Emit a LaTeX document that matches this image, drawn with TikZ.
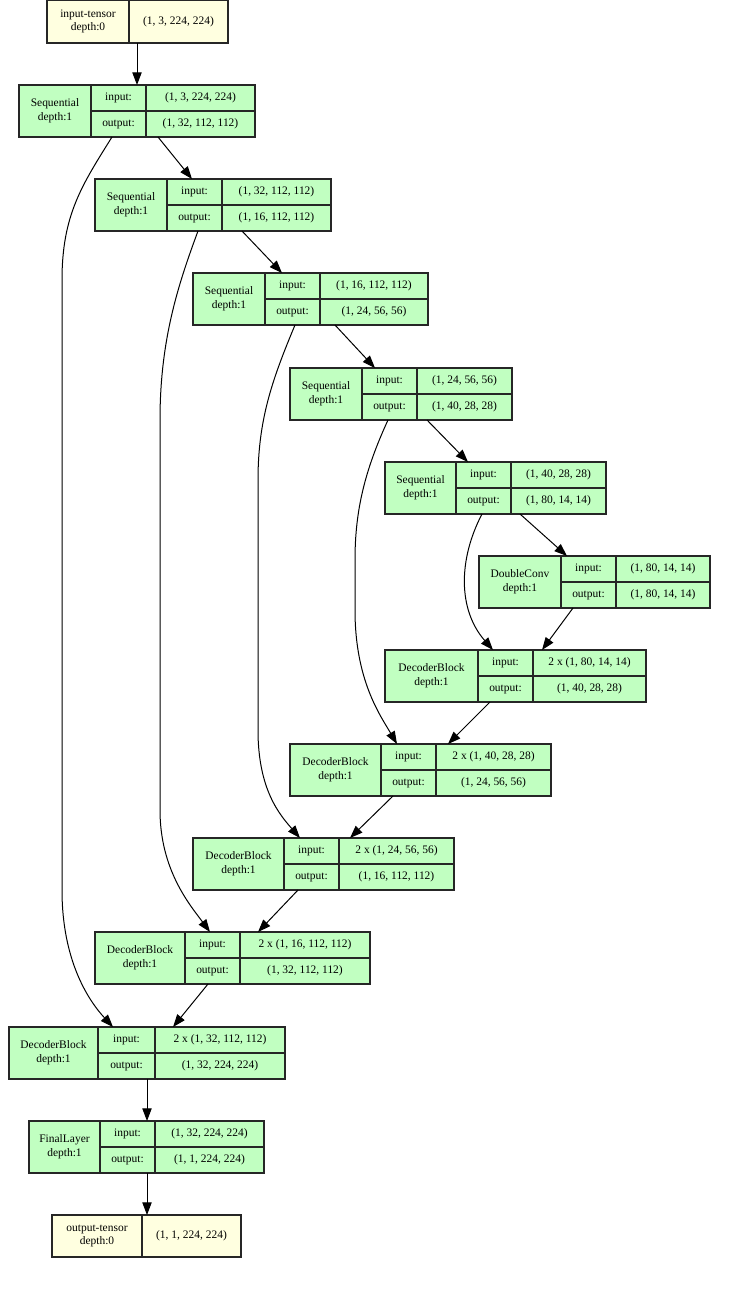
\documentclass[tikz,border=0pt]{standalone}
\usepackage{fontspec}
\setmainfont{Liberation Serif}
\usetikzlibrary{arrows.meta,calc}

\definecolor{layer}{HTML}{C1FFC1}
\definecolor{tensor}{HTML}{FFFFE0}

\newlength\pxu
\setlength\pxu{0.75pt}

% record of one layer: name, x, y, column widths, title, input, output
\newcommand{\layerbox}[9]{%
  \node[cell, fill=layer, minimum width=#4\pxu, minimum height=52\pxu] (#1) at (#2,#3) {#7\\depth:1};
  \node[cell, fill=layer, minimum width=#5\pxu, minimum height=26\pxu] (#1-il) at (#1.north east) {input:};
  \node[cell, fill=layer, minimum width=#6\pxu, minimum height=26\pxu] (#1-iv) at (#1-il.north east) {#8};
  \node[cell, fill=layer, minimum width=#5\pxu, minimum height=26\pxu] (#1-ol) at (#1-il.south west) {output:};
  \node[cell, fill=layer, minimum width=#6\pxu, minimum height=26\pxu] (#1-ov) at (#1-ol.north east) {#9};
}
% record of a tensor: name, x, y, column widths, title, shape
\newcommand{\tensorbox}[7]{%
  \node[cell, fill=tensor, minimum width=#4\pxu, minimum height=#7\pxu] (#1) at (#2,#3) {#5\\depth:0};
  \node[cell, fill=tensor, minimum width=99\pxu, minimum height=#7\pxu] (#1-v) at (#1.north east) {#6};
}

\begin{document}
\begin{tikzpicture}[x=0.75pt, y=-0.75pt,
    cell/.style={draw=black!85, line width=0.8pt, anchor=north west, inner sep=0pt,
      outer sep=0pt, align=center, font=\fontsize{8.6}{10.2}\selectfont},
    arr/.style={-{Triangle[length=9.5pt,width=7pt]}, line width=0.75pt}]
  \fill[white] (0,0) rectangle (743,1314);
  \useasboundingbox (0,0) rectangle (743,1314);

  % tensors
  \tensorbox{in}{47}{0}{82}{input-tensor}{(1, 3, 224, 224)}{43}
  \tensorbox{out}{52}{1215}{90}{output-tensor}{(1, 1, 224, 224)}{42}

  % encoder
  \layerbox{s1}{19}{85}{72}{55}{109}{Sequential}{(1, 3, 224, 224)}{(1, 32, 112, 112)}
  \layerbox{s2}{95}{179}{72}{55}{109}{Sequential}{(1, 32, 112, 112)}{(1, 16, 112, 112)}
  \layerbox{s3}{193}{273}{72}{55}{108}{Sequential}{(1, 16, 112, 112)}{(1, 24, 56, 56)}
  \layerbox{s4}{290}{368}{72}{55}{95}{Sequential}{(1, 24, 56, 56)}{(1, 40, 28, 28)}
  \layerbox{s5}{385}{462}{71}{55}{95}{Sequential}{(1, 40, 28, 28)}{(1, 80, 14, 14)}
  \layerbox{dc}{479}{556}{82}{55}{94}{DoubleConv}{(1, 80, 14, 14)}{(1, 80, 14, 14)}

  % decoder
  \layerbox{d1}{385}{650}{93}{55}{113}{DecoderBlock}{2 x (1, 80, 14, 14)}{(1, 40, 28, 28)}
  \layerbox{d2}{290}{744}{91}{55}{115}{DecoderBlock}{2 x (1, 40, 28, 28)}{(1, 24, 56, 56)}
  \layerbox{d3}{193}{838}{91}{55}{115}{DecoderBlock}{2 x (1, 24, 56, 56)}{(1, 16, 112, 112)}
  \layerbox{d4}{95}{932}{90}{55}{130}{DecoderBlock}{2 x (1, 16, 112, 112)}{(1, 32, 112, 112)}
  \layerbox{d5}{9}{1027}{89}{57}{130}{DecoderBlock}{2 x (1, 32, 112, 112)}{(1, 32, 224, 224)}
  \layerbox{fin}{29}{1121}{71}{55}{109}{FinalLayer}{(1, 32, 224, 224)}{(1, 1, 224, 224)}

  % main chain
  \draw[arr] ($(in-v.south west)+(8,0)$) -- ($(s1-il.north west)+(46,0)$);
  \draw[arr] ($(s1-ov.south west)+(12,0)$) -- ($(s2-il.north west)+(25,0)$);
  \draw[arr] ($(s2-ov.south west)+(20,0)$) -- ($(s3-il.north west)+(17,0)$);
  \draw[arr] ($(s3-ov.south west)+(15,0)$) -- ($(s4-il.north west)+(13,0)$);
  \draw[arr] ($(s4-ov.south west)+(10,0)$) -- ($(s5-il.north west)+(12,0)$);
  \draw[arr] ($(s5-ov.south west)+(9,0)$) -- ($(dc-il.north west)+(6,0)$);
  \draw[arr] ($(dc-ol.south west)+(12,0)$) -- ($(d1-iv.north west)+(9,0)$);
  \draw[arr] ($(d1-ol.south west)+(12,0)$) -- ($(d2-iv.north west)+(12,0)$);
  \draw[arr] ($(d2-ol.south west)+(12,0)$) -- ($(d3-iv.north west)+(11,0)$);
  \draw[arr] ($(d3-ol.south west)+(14,0)$) -- ($(d4-iv.north west)+(18,0)$);
  \draw[arr] ($(d4-ol.south west)+(23,0)$) -- ($(d5-iv.north west)+(18,0)$);
  \draw[arr] ($(d5-ol.south west)+(49,0)$) -- ($(fin-il.north west)+(47,0)$);
  \draw[arr] ($(fin-ol.south west)+(47,0)$) -- ($(out-v.north west)+(5,0)$);

  % skip connections
  \draw[arr] ($(s1-ol.south west)+(21,0)$) .. controls (82,185) and (62,215) .. (62,280)
    -- (62,890) .. controls (62,960) and (88,1000) .. ($(d5-il.north west)+(15,0)$);
  \draw[arr] ($(s2-ol.south west)+(31,0)$) .. controls (178,285) and (160,340) .. (160,420)
    -- (160,810) .. controls (160,870) and (190,905) .. ($(d4-il.north west)+(25,0)$);
  \draw[arr] ($(s3-ol.south west)+(30,0)$) .. controls (272,380) and (258,420) .. (258,480)
    -- (258,730) .. controls (258,790) and (280,815) .. ($(d3-il.north west)+(16,0)$);
  \draw[arr] ($(s4-ol.south west)+(26,0)$) .. controls (365,470) and (355,510) .. (355,560)
    -- (355,610) .. controls (355,680) and (380,715) .. ($(d2-il.north west)+(16,0)$);
  \draw[arr] ($(s5-ol.south west)+(26,0)$) .. controls (458,560) and (458,610)
    .. ($(d1-il.north west)+(15,0)$);
\end{tikzpicture}
\end{document}
